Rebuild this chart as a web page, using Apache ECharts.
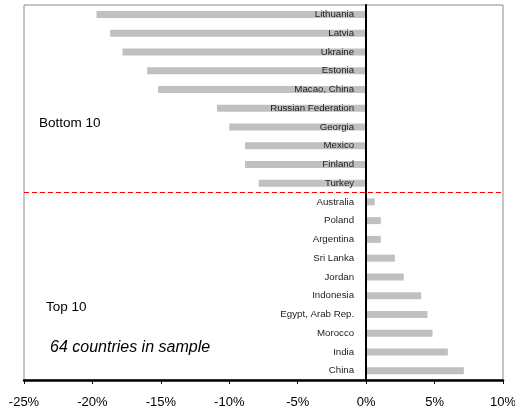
<!DOCTYPE html>
<html><head><meta charset="utf-8">
<script src="https://cdn.jsdelivr.net/npm/echarts@6/dist/echarts.min.js"></script>
<style>html,body{margin:0;padding:0;background:#fff}#c{width:515px;height:415px}</style>
</head><body><div id="c"></div>
<script>
var categories = ["Lithuania","Latvia","Ukraine","Estonia","Macao, China","Russian Federation","Georgia","Mexico","Finland","Turkey",
  "Australia","Poland","Argentina","Sri Lanka","Jordan","Indonesia","Egypt, Arab Rep.","Morocco","India","China"];
var values = [-19.7,-18.7,-17.8,-16.0,-15.2,-10.9,-10.0,-8.85,-8.85,-7.85,
  0.63,1.07,1.07,2.1,2.75,4.02,4.48,4.85,5.97,7.14];
var xTicks = {min:-25, max:10, interval:5};
var separatorPosition = 10; // boundary between Bottom 10 and Top 10

var FONT = 'Liberation Sans, Arial, sans-serif';
var chart = echarts.init(document.getElementById('c'));
chart.setOption({
  animation:false,
  textStyle:{fontFamily:FONT},
  grid:{left:24,right:12,top:5,bottom:35,containLabel:false,outerBoundsMode:'none',
    show:true,borderColor:'#8c8c8c',borderWidth:1,backgroundColor:'transparent'},
  xAxis:{type:'value',min:xTicks.min,max:xTicks.max,interval:xTicks.interval,
    axisLine:{show:true,onZero:false,lineStyle:{color:'#000',width:2.5}},
    axisTick:{show:true,length:4,lineStyle:{color:'#000',width:1}},
    axisLabel:{formatter:function(v){return v+'%';},color:'#000',fontSize:13,margin:16},
    splitLine:{show:false}},
  yAxis:[
    {type:'category',data:categories,inverse:true,z:5,
      axisLine:{show:true,onZero:true,lineStyle:{color:'#000',width:2}},
      axisTick:{show:false},axisLabel:{show:false},splitLine:{show:false}},
    {type:'value',min:0,max:categories.length,inverse:true,show:false}
  ],
  series:[
    {type:'bar',data:values.map(function(v,i){
        return {value:v,label:{position: v<0 ? 'insideRight' : 'left'}};
      }),
      barWidth:7,itemStyle:{color:'#c0c0c0'},silent:true,z:2,
      label:{show:true,formatter:function(p){return categories[p.dataIndex];},
        fontSize:9.7,color:'#222',fontFamily:FONT,distance:12}},
    {type:'line',yAxisIndex:1,data:[],silent:true,z:4,color:'#ff0000',
      itemStyle:{color:'#ff0000'},lineStyle:{color:'#ff0000'},
      markLine:{symbol:'none',silent:true,label:{show:false},
        lineStyle:{color:'#ff0000',type:[5,3],width:1,opacity:1},
        emphasis:{disabled:true},
        data:[{yAxis:separatorPosition}]}}
  ],
  graphic:[
    {type:'text',left:39,top:116,style:{text:'Bottom 10',fontSize:13.5,fill:'#000',fontFamily:FONT}},
    {type:'text',left:46,top:300,style:{text:'Top 10',fontSize:13.5,fill:'#000',fontFamily:FONT}},
    {type:'text',left:50,top:340,style:{text:'64 countries in sample',fontSize:16,fontStyle:'italic',fill:'#000',fontFamily:FONT}}
  ]
});
</script></body></html>
